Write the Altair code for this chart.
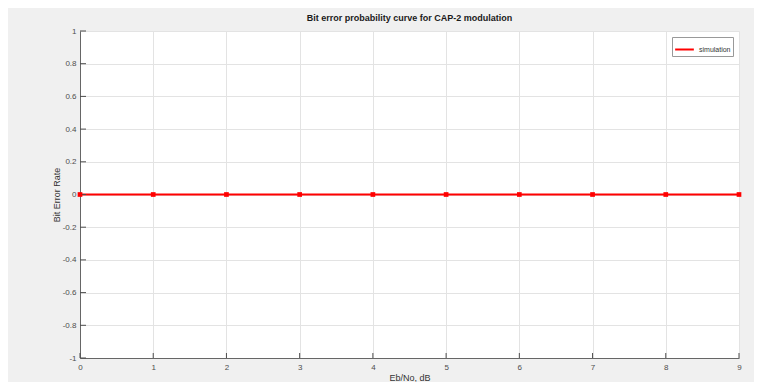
import altair as alt
import pandas as pd

# Data
ebno_db = [0, 1, 2, 3, 4, 5, 6, 7, 8, 9]
ber_sim = [0, 0, 0, 0, 0, 0, 0, 0, 0, 0]
series_name = "simulation"
x_ticks = [0, 1, 2, 3, 4, 5, 6, 7, 8, 9]
y_ticks = [-1, -0.8, -0.6, -0.4, -0.2, 0, 0.2, 0.4, 0.6, 0.8, 1]

W, H = 659, 327

df = pd.DataFrame({"x": ebno_db, "y": ber_sim, "s": [series_name] * len(ebno_db)})
xt = pd.DataFrame({"x": x_ticks})
yt = pd.DataFrame({"y": y_ticks})

font = "Liberation Sans"
lab_expr = "replace(format(datum.value, '~g'), '\u2212', '-')"

xscale = alt.Scale(domain=[0, 9], nice=False, zero=False)
yscale = alt.Scale(domain=[-1, 1], nice=False, zero=False)

xaxis = alt.Axis(
    title="Eb/No, dB",
    values=x_ticks,
    labelExpr=lab_expr,
    grid=True,
    ticks=False,
    labelOverlap=False,
    labelFlush=False,
    labelPadding=5,
    titlePadding=2,
)
yaxis = alt.Axis(
    title="Bit Error Rate",
    values=y_ticks,
    labelExpr=lab_expr,
    grid=True,
    ticks=False,
    labelOverlap=False,
    labelFlush=False,
    labelPadding=4,
    titlePadding=1,
)

cscale = alt.Scale(domain=[series_name], range=["#ff0000"])

color = alt.Color(
    "s:N",
    scale=cscale,
    legend=alt.Legend(
        title=None,
        orient="top-right",
        offset=6,
        symbolType="stroke",
        symbolSize=350,
        symbolStrokeWidth=2,
        labelFontSize=7,
        labelFont=font,
        labelColor="#333333",
        strokeColor="#999999",
        fillColor="white",
        padding=2,
        cornerRadius=0,
    ),
)

line = alt.Chart(df).mark_line(strokeWidth=2).encode(
    x=alt.X("x:Q", scale=xscale, axis=xaxis),
    y=alt.Y("y:Q", scale=yscale, axis=yaxis),
    color=color,
)

pts = alt.Chart(df).mark_square(size=22, opacity=1).encode(
    x=alt.X("x:Q", scale=xscale, axis=xaxis),
    y=alt.Y("y:Q", scale=yscale, axis=yaxis),
    color=color,
)

xtick = alt.Chart(xt).mark_rule(color="#4d4d4d", strokeWidth=1).encode(
    x=alt.X("x:Q", scale=xscale, axis=xaxis),
    y=alt.value(H),
    y2=alt.value(H - 5),
)
ytick = alt.Chart(yt).mark_rule(color="#4d4d4d", strokeWidth=1).encode(
    y=alt.Y("y:Q", scale=yscale, axis=yaxis),
    x=alt.value(0),
    x2=alt.value(6),
)

chart = (
    alt.layer(line, xtick, ytick, pts)
    .properties(
        width=W,
        height=H,
        title=alt.TitleParams(
            "Bit error probability curve for CAP-2 modulation",
            fontSize=9,
            font=font,
            fontWeight="bold",
            color="#1a1a1a",
            offset=4,
        ),
        padding={"left": 72, "top": 23, "right": 15, "bottom": 24},
        autosize=alt.AutoSizeParams(type="none"),
        background="#f0f0f0",
    )
    .configure_view(fill="white", stroke=None)
    .configure_axis(
        labelFont=font,
        titleFont=font,
        labelFontSize=8,
        titleFontSize=9,
        labelColor="#4d4d4d",
        titleColor="#333333",
        titleFontWeight="normal",
        domainColor="#666666",
        gridColor="#e3e3e3",
        gridWidth=1,
    )
)

chart.save("out.html", embed_options={"renderer": "svg", "actions": False})
